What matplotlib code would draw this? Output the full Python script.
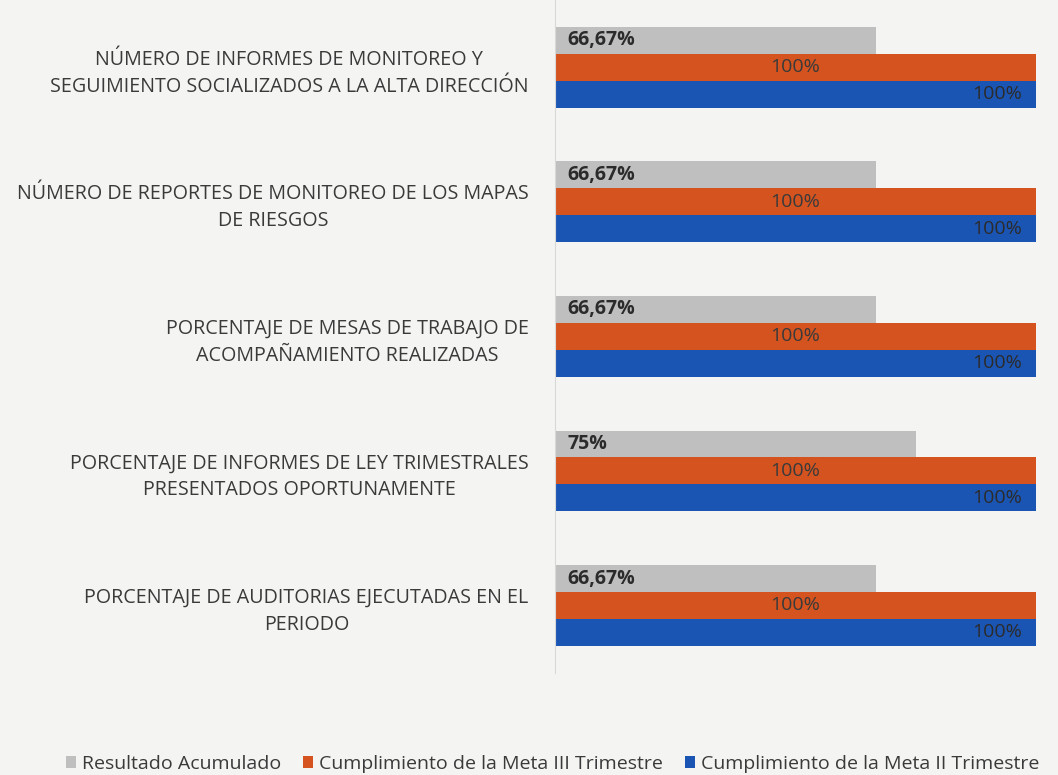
import numpy as np
import matplotlib.pyplot as plt

plt.rcParams["font.family"] = ["Open Sans", "DejaVu Sans"]

categories = [
    "NÚMERO DE INFORMES DE MONITOREO Y\nSEGUIMIENTO SOCIALIZADOS A LA ALTA DIRECCIÓN",
    "NÚMERO DE REPORTES DE MONITOREO DE LOS MAPAS\nDE RIESGOS",
    "PORCENTAJE DE MESAS DE TRABAJO DE\nACOMPAÑAMIENTO REALIZADAS",
    "PORCENTAJE DE INFORMES DE LEY TRIMESTRALES\nPRESENTADOS OPORTUNAMENTE",
    "PORCENTAJE DE AUDITORIAS EJECUTADAS EN EL\nPERIODO",
]
resultado = [66.67, 66.67, 66.67, 75, 66.67]
meta_iii = [100, 100, 100, 100, 100]
meta_ii = [100, 100, 100, 100, 100]

series_names = [
    "Resultado Acumulado",
    "Cumplimiento de la Meta III Trimestre",
    "Cumplimiento de la Meta II Trimestre",
]
colors = ["#bfbfbf", "#d4531f", "#1b55b4"]
bg = "#f4f4f3"


def fmt(v):
    if abs(v - round(v)) < 1e-9:
        return f"{int(round(v))}%"
    return f"{v:.2f}%".replace(".", ",")


fig = plt.figure(figsize=(10.58, 7.75), dpi=100, facecolor=bg)
ax = fig.add_axes([0.5246, 0.132, 0.4546, 0.868])
ax.set_facecolor(bg)

y = np.arange(len(categories))
h = 0.2
offsets = [-h, 0, h]
all_series = [resultado, meta_iii, meta_ii]

for vals, off, col, name in zip(all_series, offsets, colors, series_names):
    ax.barh(y + off, vals, height=h, color=col, label=name)

# data labels
for i in range(len(categories)):
    ax.text(2.6, y[i] - h, fmt(resultado[i]), va="center", ha="left",
            fontsize=14, fontweight="bold", color="#2b2b2b")
    ax.text(meta_iii[i] / 2, y[i], fmt(meta_iii[i]), va="center", ha="center",
            fontsize=14, color="#3a3a3a")
    ax.text(meta_ii[i] - 3, y[i] + h, fmt(meta_ii[i]), va="center", ha="right",
            fontsize=14, color="#2b2b2b")

ax.set_xlim(0, 100)
ax.set_ylim(4.5, -0.5)
ax.set_xticks([])
ax.set_yticks(y)
ax.set_yticklabels(categories, fontsize=14.2, color="#3a3a3a", ha="right",
                   multialignment="center", linespacing=1.45)
ax.tick_params(axis="y", length=0, pad=19)
for s in ["top", "right", "bottom"]:
    ax.spines[s].set_visible(False)
ax.spines["left"].set_color("#d8d8d8")

fig.legend(loc="lower right", bbox_to_anchor=(0.999, -0.02), ncol=3,
           frameon=False, fontsize=14, handlelength=0.55, handleheight=0.55,
           handletextpad=0.3, columnspacing=1.1, labelcolor="#3a3a3a")

plt.savefig("out.png", dpi=100, facecolor=bg)
